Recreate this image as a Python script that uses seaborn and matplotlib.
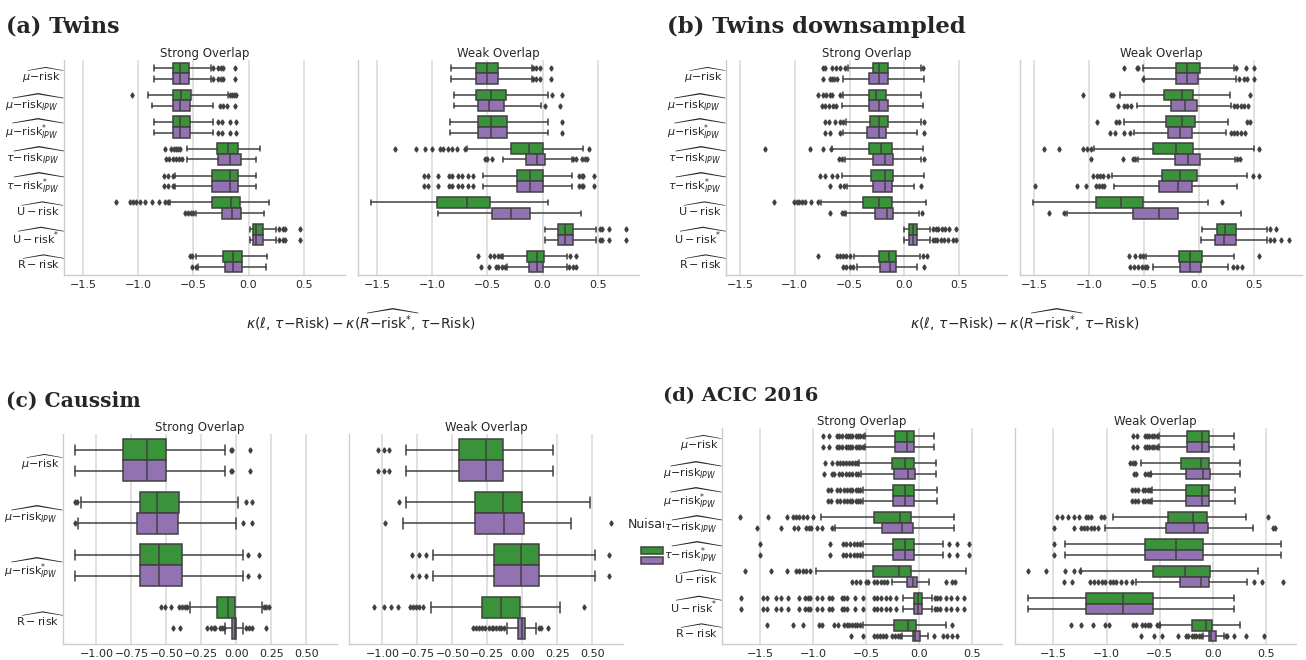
import matplotlib
matplotlib.use("Agg")
import matplotlib.pyplot as plt
import seaborn as sns
from matplotlib.patches import Patch, Rectangle
from matplotlib.ticker import MultipleLocator
from matplotlib.transforms import Bbox, TransformedBbox

# ---------------------------------------------------------------------------
# Box statistics: (whisker low, q1, median, q3, whisker high) per category,
# outliers listed separately. Values are kappa(l, tau-Risk) - kappa(R-risk*, tau-Risk).
# ---------------------------------------------------------------------------
LOSSES_8 = [
    r"$\widehat{\mu{-}\mathrm{risk}}$",
    r"$\widehat{\mu{-}\mathrm{risk}_{IPW}}$",
    r"$\widehat{\mu{-}\mathrm{risk}^{*}_{IPW}}$",
    r"$\widehat{\tau{-}\mathrm{risk}_{IPW}}$",
    r"$\widehat{\tau{-}\mathrm{risk}^{*}_{IPW}}$",
    r"$\widehat{\mathrm{U - risk}}$",
    r"$\widehat{\mathrm{U - risk}^{*}}$",
    r"$\widehat{\mathrm{R - risk}}$",
]
LOSSES_4 = [LOSSES_8[0], LOSSES_8[1], LOSSES_8[2], LOSSES_8[7]]
OVERLAPS = ["Strong Overlap", "Weak Overlap"]
NUISANCE_COLORS = ["tab:green", "tab:purple"]

# ---- (a) Twins -------------------------------------------------------------
TWINS_STRONG_G = [(-0.86, -0.69, -0.62, -0.54, -0.34), (-0.91, -0.69, -0.61, -0.52, -0.19),
                  (-0.86, -0.69, -0.62, -0.53, -0.32), (-0.56, -0.29, -0.19, -0.10, 0.10),
                  (-0.67, -0.33, -0.17, -0.10, 0.07), (-0.71, -0.33, -0.16, -0.08, 0.19),
                  (0.01, 0.04, 0.07, 0.13, 0.25), (-0.48, -0.23, -0.14, -0.06, 0.17)]
TWINS_STRONG_G_OUT = [[-0.32, -0.28, -0.25, -0.23, -0.12], [-1.06, -0.17, -0.15, -0.13, -0.11],
                      [-0.28, -0.24, -0.17, -0.11], [-0.76, -0.70, -0.68, -0.66, -0.64, -0.62],
                      [-0.77, -0.73, -0.69],
                      [-1.20, -1.08, -1.05, -1.02, -0.99, -0.94, -0.88, -0.81, -0.76, -0.73],
                      [0.28, 0.31, 0.33, 0.47], [-0.53, -0.51]]
TWINS_STRONG_P = [(-0.86, -0.69, -0.62, -0.54, -0.34), (-0.88, -0.69, -0.62, -0.53, -0.32),
                  (-0.86, -0.69, -0.62, -0.53, -0.32), (-0.56, -0.28, -0.17, -0.07, 0.07),
                  (-0.67, -0.33, -0.17, -0.10, 0.07), (-0.48, -0.24, -0.15, -0.07, 0.14),
                  (0.01, 0.04, 0.07, 0.13, 0.25), (-0.46, -0.21, -0.14, -0.06, 0.16)]
TWINS_STRONG_P_OUT = [[-0.32, -0.28, -0.25, -0.23, -0.12], [-0.26, -0.23, -0.20, -0.12],
                      [-0.28, -0.24, -0.17, -0.11], [-0.75, -0.72, -0.69, -0.66, -0.63, -0.60],
                      [-0.77, -0.73, -0.69], [-0.58, -0.55, -0.52, -0.50],
                      [0.28, 0.31, 0.33, 0.47], [-0.51, -0.48]]
TWINS_WEAK_G = [(-0.83, -0.60, -0.50, -0.40, -0.10), (-0.80, -0.60, -0.47, -0.33, 0.05),
                (-0.84, -0.59, -0.47, -0.32, 0.05), (-0.69, -0.29, -0.12, 0.00, 0.37),
                (-0.54, -0.23, -0.11, 0.00, 0.27), (-1.56, -0.96, -0.69, -0.48, 0.05),
                (0.02, 0.14, 0.20, 0.28, 0.49), (-0.36, -0.14, -0.05, 0.01, 0.22)]
TWINS_WEAK_G_OUT = [[-0.09, -0.06, -0.02, 0.08], [0.09, 0.18], [0.18],
                    [-1.34, -1.15, -1.07, -1.00, -0.93, -0.90, -0.86, -0.82, -0.78, -0.70, 0.42],
                    [-1.08, -1.04, -0.95, -0.85, -0.82, -0.77, -0.73, -0.68, -0.63, 0.33, 0.36, 0.37, 0.47],
                    [], [0.52, 0.54, 0.60, 0.76], [-0.59, -0.48, -0.44, -0.40, -0.38, 0.25, 0.30]]
TWINS_WEAK_P = [(-0.83, -0.60, -0.50, -0.40, -0.10), (-0.80, -0.59, -0.49, -0.35, -0.01),
                (-0.84, -0.59, -0.47, -0.32, 0.05), (-0.36, -0.15, -0.05, 0.02, 0.27),
                (-0.54, -0.23, -0.11, 0.00, 0.27), (-0.95, -0.46, -0.29, -0.11, 0.35),
                (0.02, 0.14, 0.20, 0.28, 0.49), (-0.32, -0.12, -0.05, 0.00, 0.22)]
TWINS_WEAK_P_OUT = [[-0.09, -0.06, -0.02, 0.08], [0.02, 0.16], [0.18],
                    [-0.52, -0.50, -0.46, 0.28, 0.30, 0.36, 0.39, 0.40],
                    [-1.08, -1.04, -0.95, -0.85, -0.82, -0.77, -0.73, -0.68, -0.63, 0.33, 0.36, 0.37, 0.47],
                    [], [0.52, 0.54, 0.60, 0.76],
                    [-0.56, -0.49, -0.42, -0.40, -0.37, -0.34, 0.24, 0.28, 0.30]]

# ---- (b) Twins downsampled -------------------------------------------------
DOWN_STRONG_G = [(-0.51, -0.29, -0.23, -0.15, 0.15), (-0.56, -0.32, -0.26, -0.17, 0.15),
                 (-0.53, -0.31, -0.23, -0.15, 0.15), (-0.66, -0.32, -0.21, -0.11, 0.17),
                 (-0.57, -0.30, -0.18, -0.10, 0.18), (-0.76, -0.38, -0.23, -0.11, 0.20),
                 (0.00, 0.04, 0.08, 0.12, 0.23), (-0.46, -0.23, -0.14, -0.08, 0.14)]
DOWN_STRONG_G_OUT = [[-0.74, -0.72, -0.66, -0.62, -0.59, -0.54, 0.17],
                     [-0.79, -0.74, -0.71, -0.68, -0.66, -0.59],
                     [-0.72, -0.69, -0.63, -0.59, -0.56, 0.18], [-1.27, -0.86, -0.74, -0.67],
                     [-0.77, -0.72, -0.66, -0.61],
                     [-1.19, -1.01, -0.98, -0.96, -0.93, -0.91, -0.85, -0.79],
                     [0.26, 0.29, 0.31, 0.34, 0.37, 0.41, 0.47],
                     [-0.79, -0.61, -0.59, -0.56, -0.53, -0.50, 0.17, 0.21]]
DOWN_STRONG_P = [(-0.56, -0.32, -0.23, -0.15, 0.18), (-0.57, -0.32, -0.23, -0.15, 0.17),
                 (-0.56, -0.34, -0.23, -0.17, 0.12), (-0.54, -0.29, -0.18, -0.10, 0.15),
                 (-0.52, -0.29, -0.18, -0.11, 0.09), (-0.53, -0.27, -0.16, -0.10, 0.13),
                 (0.00, 0.04, 0.08, 0.12, 0.23), (-0.43, -0.22, -0.13, -0.08, 0.12)]
DOWN_STRONG_P_OUT = [[-0.74, -0.68, -0.66, -0.64, -0.61], [-0.75, -0.72, -0.69, -0.65, -0.62],
                     [-0.72, -0.68, -0.59, 0.18], [-0.60, -0.57, 0.18], [-0.68, -0.59, -0.55, 0.15],
                     [-0.68, -0.57, -0.55, 0.16], [0.26, 0.28, 0.30, 0.33, 0.36, 0.40, 0.44, 0.47],
                     [-0.56, -0.53, -0.50, -0.47, 0.18]]
DOWN_WEAK_G = [(-0.51, -0.21, -0.11, 0.01, 0.32), (-0.72, -0.32, -0.15, -0.05, 0.28),
               (-0.68, -0.30, -0.15, -0.04, 0.26), (-0.95, -0.42, -0.21, -0.05, 0.50),
               (-0.79, -0.34, -0.17, -0.02, 0.44), (-1.51, -0.94, -0.71, -0.51, 0.08),
               (0.03, 0.16, 0.24, 0.34, 0.62), (-0.48, -0.18, -0.08, 0.03, 0.32)]
DOWN_WEAK_G_OUT = [[-0.68, -0.56, -0.55, 0.34, 0.43, 0.50], [-1.05, -0.80, -0.78, 0.46],
                   [-0.93, -0.75, -0.73, 0.44, 0.46], [-1.41, -1.27, -1.05, -1.02, -0.98, 0.55],
                   [-0.96, -0.93, -0.90, -0.87, -0.83, 0.49, 0.55], [0.21], [0.65, 0.70],
                   [-0.64, -0.58, -0.54, -0.51, 0.55]]
DOWN_WEAK_P = [(-0.50, -0.21, -0.11, -0.01, 0.34), (-0.56, -0.25, -0.13, -0.02, 0.29),
               (-0.59, -0.28, -0.17, -0.06, 0.25), (-0.55, -0.22, -0.10, 0.01, 0.33),
               (-0.77, -0.36, -0.19, -0.06, 0.35), (-1.20, -0.60, -0.36, -0.19, 0.38),
               (0.02, 0.15, 0.23, 0.34, 0.62), (-0.42, -0.17, -0.08, 0.02, 0.26)]
DOWN_WEAK_P_OUT = [[-0.51, 0.36, 0.41, 0.44, 0.50],
                   [-0.74, -0.68, -0.65, -0.62, 0.32, 0.35, 0.38, 0.41, 0.45],
                   [-0.81, -0.76, -0.68, -0.63, 0.29, 0.32, 0.35, 0.38, 0.42],
                   [-0.98, -0.69, -0.60, -0.58, 0.35, 0.37],
                   [-1.49, -1.11, -1.03, -0.94, -0.91, -0.88, -0.86], [-1.36, -1.23],
                   [0.65, 0.68, 0.75, 0.82],
                   [-0.63, -0.59, -0.55, -0.52, -0.49, -0.47, 0.31, 0.35, 0.39]]

# ---- (c) Caussim -----------------------------------------------------------
CAUSSIM_STRONG_G = [(-1.15, -0.81, -0.64, -0.50, -0.08), (-1.11, -0.69, -0.57, -0.41, 0.01),
                    (-1.15, -0.69, -0.55, -0.39, 0.05), (-0.33, -0.14, -0.06, -0.01, 0.18)]
CAUSSIM_STRONG_G_OUT = [[-0.04, -0.03, 0.10], [-1.15, -1.14, 0.07, 0.11], [0.08, 0.16],
                        [-0.54, -0.51, -0.47, -0.41, -0.39, -0.37, -0.35, 0.20, 0.21, 0.23]]
CAUSSIM_STRONG_P = [(-1.15, -0.81, -0.64, -0.50, -0.08), (-1.13, -0.71, -0.57, -0.42, 0.00),
                    (-1.15, -0.69, -0.55, -0.39, 0.05), (-0.08, -0.03, -0.01, 0.00, 0.05)]
CAUSSIM_STRONG_P_OUT = [[-0.04, -0.03, 0.10], [-1.15, 0.05, 0.11], [0.08, 0.16],
                        [-0.45, -0.40, -0.21, -0.18, -0.16, -0.15, -0.12, -0.10, -0.09,
                         0.07, 0.09, 0.11, 0.21]]
CAUSSIM_WEAK_G = [(-0.83, -0.45, -0.26, -0.14, 0.22), (-0.83, -0.34, -0.14, 0.00, 0.48),
                  (-0.64, -0.20, -0.01, 0.12, 0.52), (-0.65, -0.29, -0.15, -0.02, 0.27)]
CAUSSIM_WEAK_G_OUT = [[-1.03, -0.99, -0.95], [-0.88], [-0.79, -0.74, -0.69, 0.62],
                      [-1.06, -0.99, -0.94, -0.89, -0.80, -0.78, -0.76, -0.74, -0.71, 0.44]]
CAUSSIM_WEAK_P = [(-0.83, -0.45, -0.26, -0.14, 0.22), (-0.85, -0.34, -0.13, 0.01, 0.35),
                  (-0.64, -0.20, -0.01, 0.12, 0.52), (-0.11, -0.03, 0.00, 0.02, 0.10)]
CAUSSIM_WEAK_P_OUT = [[-1.03, -0.99, -0.95], [-0.98, 0.63], [-0.79, -0.74, -0.69, 0.62],
                      [-0.35, -0.33, -0.31, -0.29, -0.27, -0.24, -0.22, -0.21, -0.19, -0.17,
                       -0.15, -0.13, 0.12, 0.13, 0.18]]

# ---- (d) ACIC 2016 ---------------------------------------------------------
ACIC_STRONG_G = [(-0.51, -0.23, -0.12, -0.05, 0.14), (-0.57, -0.26, -0.13, -0.05, 0.16),
                 (-0.53, -0.25, -0.13, -0.05, 0.17), (-0.93, -0.43, -0.18, -0.08, 0.33),
                 (-0.53, -0.25, -0.13, -0.05, 0.22), (-0.97, -0.44, -0.19, -0.08, 0.44),
                 (-0.15, -0.05, -0.01, 0.03, 0.12), (-0.53, -0.24, -0.11, -0.03, 0.25)]
ACIC_STRONG_G_OUT = [[-0.91, -0.85, -0.78, -0.76, -0.73, -0.69, -0.67, -0.65, -0.63, -0.60, -0.58, -0.56, -0.53],
                     [-0.89, -0.82, -0.78, -0.75, -0.72, -0.69, -0.66, -0.63, -0.61, -0.59],
                     [-0.86, -0.83, -0.78, -0.75, -0.71, -0.68, -0.65, -0.63, -0.60, -0.58, -0.56],
                     [-1.69, -1.43, -1.25, -1.19, -1.16, -1.13, -1.10, -1.06, -1.00],
                     [-1.50, -0.84, -0.72, -0.69, -0.65, -0.62, -0.59, -0.56, 0.28, 0.36, 0.47],
                     [-1.64, -1.40, -1.25, -1.16, -1.13, -1.10, -1.07, -1.03],
                     [-1.68, -1.47, -1.44, -1.35, -1.30, -1.24, -1.13, -1.08, -1.05, -1.03, -0.96,
                      -0.92, -0.85, -0.82, -0.73, -0.71, -0.68, -0.61, -0.53, -0.43, -0.40, -0.36,
                      -0.31, -0.28, -0.22, 0.15, 0.17, 0.20, 0.25, 0.30, 0.36, 0.42],
                     [-1.44, -1.19, -1.10, -0.95, -0.92, -0.80, -0.77, -0.71, -0.68, -0.66, -0.63,
                      -0.61, -0.59, -0.56, 0.31]]
ACIC_STRONG_P = [(-0.51, -0.23, -0.12, -0.05, 0.14), (-0.55, -0.24, -0.11, -0.04, 0.16),
                 (-0.53, -0.25, -0.13, -0.05, 0.17), (-0.79, -0.35, -0.16, -0.06, 0.33),
                 (-0.53, -0.25, -0.13, -0.05, 0.22), (-0.26, -0.12, -0.06, -0.02, 0.09),
                 (-0.15, -0.05, -0.01, 0.03, 0.12), (-0.16, -0.06, -0.04, 0.01, 0.08)]
ACIC_STRONG_P_OUT = [[-0.91, -0.85, -0.78, -0.76, -0.73, -0.69, -0.67, -0.65, -0.63, -0.60, -0.58, -0.56, -0.53],
                     [-0.90, -0.82, -0.80, -0.76, -0.73, -0.69, -0.66, -0.63, -0.60, -0.58],
                     [-0.86, -0.83, -0.78, -0.75, -0.71, -0.68, -0.65, -0.63, -0.60, -0.58, -0.56],
                     [-1.53, -1.30, -1.18, -1.14, -1.07, -1.04, -1.02, -0.96, -0.92, -0.82],
                     [-1.50, -0.84, -0.72, -0.69, -0.65, -0.62, -0.59, -0.56, 0.28, 0.36, 0.47],
                     [-0.63, -0.60, -0.56, -0.50, -0.48, -0.43, -0.40, -0.36, -0.33, -0.30,
                      0.25, 0.31, 0.34],
                     [-1.68, -1.47, -1.44, -1.35, -1.30, -1.24, -1.13, -1.08, -1.05, -1.03, -0.96,
                      -0.92, -0.85, -0.82, -0.73, -0.71, -0.68, -0.61, -0.53, -0.43, -0.40, -0.36,
                      -0.31, -0.28, -0.22, 0.15, 0.17, 0.20, 0.25, 0.30, 0.36, 0.42],
                     [-0.64, -0.53, -0.43, -0.40, -0.37, -0.34, -0.31, -0.26, -0.23, -0.20, -0.18,
                      0.14, 0.22, 0.26, 0.31, 0.36]]
ACIC_WEAK_G = [(-0.51, -0.24, -0.10, -0.04, 0.20), (-0.68, -0.30, -0.11, -0.04, 0.25),
               (-0.57, -0.25, -0.10, -0.04, 0.21), (-0.94, -0.42, -0.19, -0.06, 0.31),
               (-1.39, -0.64, -0.35, -0.09, 0.64), (-1.24, -0.56, -0.26, -0.03, 0.42),
               (-1.74, -1.19, -0.85, -0.56, 0.20), (-0.50, -0.20, -0.07, -0.01, 0.25)]
ACIC_WEAK_G_OUT = [[-0.75, -0.71, -0.64, -0.62, -0.60, -0.57, -0.55, -0.53], [-0.78, -0.75, -0.73],
                   [-0.76, -0.73, -0.70, -0.66, -0.64, -0.61, -0.59],
                   [-1.47, -1.42, -1.36, -1.31, -1.26, -1.19, -1.17, -1.15, -1.05, -1.02, 0.52],
                   [-1.49], [-1.74, -1.57, -1.39, -1.31, -1.25], [],
                   [-1.33, -1.24, -1.13, -1.01, -0.98, -0.75, -0.72, -0.67, -0.64, -0.61, -0.59,
                    -0.53, -0.51]]
ACIC_WEAK_P = [(-0.51, -0.24, -0.10, -0.04, 0.20), (-0.58, -0.25, -0.09, -0.03, 0.25),
               (-0.57, -0.25, -0.10, -0.04, 0.21), (-1.01, -0.44, -0.18, -0.05, 0.38),
               (-1.39, -0.64, -0.35, -0.09, 0.64), (-0.72, -0.31, -0.11, -0.04, 0.32),
               (-1.74, -1.19, -0.85, -0.56, 0.20), (-0.09, -0.04, -0.02, 0.03, 0.10)]
ACIC_WEAK_P_OUT = [[-0.75, -0.71, -0.64, -0.62, -0.60, -0.57, -0.55, -0.53],
                   [-0.74, -0.72, -0.64, -0.61, -0.59],
                   [-0.76, -0.73, -0.70, -0.66, -0.64, -0.61, -0.59],
                   [-1.49, -1.31, -1.24, -1.21, -1.18, -1.15, -1.12, -1.08, 0.56, 0.58],
                   [-1.49],
                   [-1.40, -1.32, -1.16, -1.12, -1.08, -1.04, -1.01, -0.97, -0.94, -0.91, -0.86,
                    -0.82, -0.76, 0.39, 0.46, 0.66],
                   [],
                   [-0.68, -0.55, -0.48, -0.33, -0.25, -0.23, -0.20, -0.18, -0.16, -0.13, -0.11,
                    0.12, 0.13, 0.20, 0.31, 0.48]]

# ---------------------------------------------------------------------------
sns.set_theme(style="whitegrid")
plt.rcParams["font.family"] = ["DejaVu Sans"]
plt.rcParams["mathtext.fontset"] = "dejavusans"

W, H = 1306, 660
fig = plt.figure(figsize=(W / 100, H / 100), dpi=100)

PALETTE = [sns.desaturate(c, 0.75) for c in NUISANCE_COLORS]
LINE = "#414141"
LW = 1.1
TICK_FS = 8
TITLE_FS = 8.5


def px_axes(left, top, right, bottom, **kw):
    return fig.add_axes([left / W, 1 - bottom / H, (right - left) / W, (bottom - top) / H], **kw)


def draw_boxes(ax, stats_by_hue, outliers_by_hue):
    n = len(stats_by_hue[0])
    for h, (stats, outs, color) in enumerate(zip(stats_by_hue, outliers_by_hue, PALETTE)):
        offset = -0.2 + 0.4 * h
        bstats = [dict(whislo=s[0], q1=s[1], med=s[2], q3=s[3], whishi=s[4], fliers=o)
                  for s, o in zip(stats, outs)]
        ax.bxp(bstats, positions=[i + offset for i in range(n)], widths=0.4,
               orientation="horizontal", patch_artist=True, manage_ticks=False,
               boxprops=dict(facecolor=color, edgecolor=LINE, linewidth=LW),
               medianprops=dict(color=LINE, linewidth=LW),
               whiskerprops=dict(color=LINE, linewidth=LW),
               capprops=dict(color=LINE, linewidth=LW),
               flierprops=dict(marker="d", markersize=2.6, markerfacecolor=LINE,
                               markeredgecolor=LINE, linestyle="none"))


def style_axes(ax, title, labels, step, show_labels):
    n = len(labels)
    ax.set_ylim(n - 0.5, -0.5)
    ax.set_yticks(range(n))
    if show_labels:
        ax.set_yticklabels(labels, fontsize=TICK_FS)
    else:
        ax.tick_params(axis="y", labelleft=False)
    ax.xaxis.set_major_locator(MultipleLocator(step))
    ax.tick_params(axis="x", labelsize=TICK_FS, length=0, pad=3.5)
    # the wide hat accent leaves blank room on the right of each label
    ax.tick_params(axis="y", pad=-7)
    ax.grid(axis="y", visible=False)
    ax.grid(axis="x", color=".86", linewidth=1.2)
    ax.set_title(title, fontsize=TITLE_FS, pad=2, color=".15")
    sns.despine(ax=ax)
    for side in ("left", "bottom"):
        ax.spines[side].set_color(".8")
        ax.spines[side].set_linewidth(1.0)


def panel(rects, data, labels, step, zorder=0):
    strong = px_axes(*rects[0], zorder=zorder)
    weak = px_axes(*rects[1], sharex=strong, sharey=strong, zorder=zorder)
    for ax, title, (stats, outs), show in zip((strong, weak), OVERLAPS, data, (True, False)):
        draw_boxes(ax, stats, outs)
        style_axes(ax, title, labels, step, show)
    strong.autoscale(axis="x")
    return strong, weak


TITLE_KW = dict(fontweight="bold", family="DejaVu Serif", va="baseline", ha="left")
XLABEL = (r"$\kappa(\ell,\, \tau{-}\mathrm{Risk}) - "
          r"\kappa(\widehat{R{-}\mathrm{risk}^{*}},\, \tau{-}\mathrm{Risk})$")

# (a) Twins
panel([(64, 60, 345, 275), (358, 60, 639, 275)],
      [((TWINS_STRONG_G, TWINS_STRONG_P), (TWINS_STRONG_G_OUT, TWINS_STRONG_P_OUT)),
       ((TWINS_WEAK_G, TWINS_WEAK_P), (TWINS_WEAK_G_OUT, TWINS_WEAK_P_OUT))],
      LOSSES_8, 0.5)
fig.text(6 / W, 1 - 33 / H, "(a) Twins", fontsize=16, **TITLE_KW)
fig.text(361 / W, 1 - 320 / H, XLABEL, fontsize=10, ha="center", va="center", color=".15")

# (b) Twins downsampled
panel([(726, 60, 1007, 275), (1020, 60, 1302, 275)],
      [((DOWN_STRONG_G, DOWN_STRONG_P), (DOWN_STRONG_G_OUT, DOWN_STRONG_P_OUT)),
       ((DOWN_WEAK_G, DOWN_WEAK_P), (DOWN_WEAK_G_OUT, DOWN_WEAK_P_OUT))],
      LOSSES_8, 0.5)
fig.text(667 / W, 1 - 33 / H, "(b) Twins downsampled", fontsize=16.4, **TITLE_KW)
fig.text(1025 / W, 1 - 320 / H, XLABEL, fontsize=10, ha="center", va="center", color=".15")

# (c) Caussim
panel([(63, 434, 337, 644), (349, 434, 623, 644)],
      [((CAUSSIM_STRONG_G, CAUSSIM_STRONG_P), (CAUSSIM_STRONG_G_OUT, CAUSSIM_STRONG_P_OUT)),
       ((CAUSSIM_WEAK_G, CAUSSIM_WEAK_P), (CAUSSIM_WEAK_G_OUT, CAUSSIM_WEAK_P_OUT))],
      LOSSES_4, 0.25)
fig.text(6 / W, 1 - 407 / H, "(c) Caussim", fontsize=14.6, **TITLE_KW)

# nuisance legend: heading plus colour swatches, trimmed where the (d) block starts
legend_clip = TransformedBbox(Bbox.from_extents(0, 0, 664 / W, 1), fig.transFigure)
heading = fig.text(628 / W, 1 - 524 / H, "Nuisances", fontsize=9, color=".15", ha="left",
                   va="center", zorder=1)
heading.set_clip_box(legend_clip)
heading.set_clip_on(True)
handles = [Patch(facecolor=c, edgecolor=LINE, linewidth=LW) for c in PALETTE]
leg = fig.legend(handles, ["", ""], loc="upper left", bbox_to_anchor=(641 / W, 1 - 546 / H),
                 frameon=False, fontsize=8, handlelength=2.0, handleheight=0.6,
                 labelspacing=0.0, borderaxespad=0.0, borderpad=0.0)
leg.set_zorder(1)

# the (d) block sits on a white backdrop
fig.add_artist(Rectangle((664 / W, 0), (W - 664) / W, 300 / H, transform=fig.transFigure,
                         facecolor="white", edgecolor="none", zorder=2))

# (d) ACIC 2016
panel([(722, 428, 1002, 644), (1015, 428, 1296, 644)],
      [((ACIC_STRONG_G, ACIC_STRONG_P), (ACIC_STRONG_G_OUT, ACIC_STRONG_P_OUT)),
       ((ACIC_WEAK_G, ACIC_WEAK_P), (ACIC_WEAK_G_OUT, ACIC_WEAK_P_OUT))],
      LOSSES_8, 0.5, zorder=3)
fig.text(663 / W, 1 - 401 / H, "(d) ACIC 2016", fontsize=14, zorder=4, **TITLE_KW)

fig.savefig("out.png", dpi=100, facecolor="white")
